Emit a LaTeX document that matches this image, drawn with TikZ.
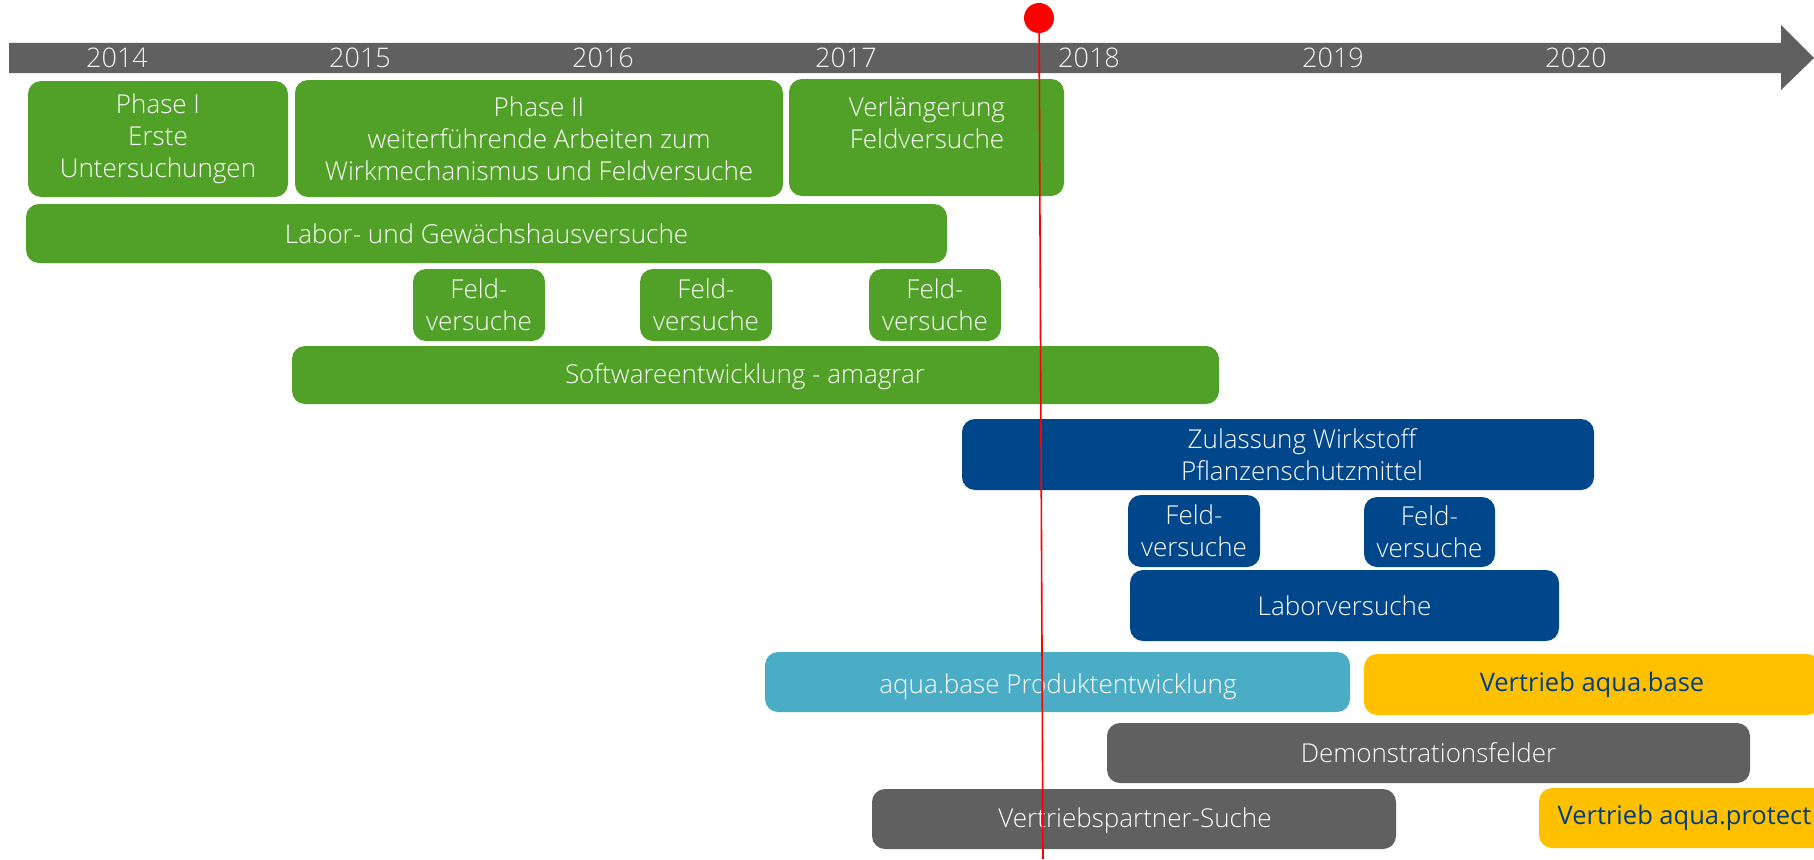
\documentclass[tikz,border=0pt]{standalone}
\usepackage{fontspec}
\IfFontExistsTF{Open Sans Light}{\setmainfont{Open Sans Light}}{\setmainfont{Open Sans}}
\newfontfamily\regfont{Open Sans}
\definecolor{grn}{HTML}{51A028}
\definecolor{dblue}{HTML}{00468B}
\definecolor{lblue}{HTML}{4BACC6}
\definecolor{gold}{HTML}{FFC000}
\definecolor{dgray}{HTML}{606060}
\definecolor{vtext}{HTML}{003E7E}
\definecolor{ytext}{HTML}{F2F2F2}
\newcommand\mybox[7]{\node[box,#6,minimum width={#4-#2},minimum height={#5-#3}] (#1) at (#2,#3) {#7};}
\begin{document}
\begin{tikzpicture}[x=1pt,y=-1pt,
  box/.style={rounded corners=13pt, inner sep=0pt, outer sep=0pt, anchor=north west, align=center, text=white, font=\fontsize{26}{32}\selectfont},
  green/.style={fill=grn},
  navy/.style={fill=dblue},
  aqua/.style={fill=lblue},
  goldbox/.style={fill=gold, text=vtext, font=\regfont\fontsize{25.5}{32}\selectfont},
  graybox/.style={fill=dgray},
  lbl/.style={align=center, text=white, inner sep=0pt, font=\fontsize{26}{32}\selectfont},
  year/.style={anchor=base, text=ytext, inner sep=0pt, font=\fontsize{27}{30}\selectfont}]
\useasboundingbox (0,0) rectangle (1814,859);
\clip (0,0) rectangle (1814,859);
% time axis
\fill[dgray] (9,43) -- (1781,43) -- (1781,25) -- (1814,58) -- (1781,90) -- (1781,73) -- (9,73) -- cycle;
\node[year] (y2014) at (117,67) {2014};
\node[year] (y2015) at (360,67) {2015};
\node[year] (y2016) at (603,67) {2016};
\node[year] (y2017) at (846,67) {2017};
\node[year] (y2018) at (1089,67) {2018};
\node[year] (y2019) at (1333,67) {2019};
\node[year] (y2020) at (1576,67) {2020};
% green boxes
\mybox{p1}{28}{81}{288}{197}{green}{Phase I\\Erste\\Untersuchungen}
\mybox{p2}{295}{80}{783}{197}{green}{Phase II\\weiterführende Arbeiten zum\\Wirkmechanismus und Feldversuche}
\mybox{verl}{789}{79}{1064}{196}{green}{}
\node[lbl] (verlt) at (927,123) {Verlängerung\\Feldversuche};
\mybox{labor}{26}{204}{947}{263}{green}{Labor- und Gewächshausversuche}
\mybox{f1}{413}{269}{545}{341}{green}{Feld-\\versuche}
\mybox{f2}{640}{269}{772}{341}{green}{Feld-\\versuche}
\mybox{f3}{869}{269}{1001}{341}{green}{Feld-\\versuche}
\mybox{soft}{292}{346}{1219}{404}{green}{}
\node[lbl] (softt) at (745,377) {Softwareentwicklung - amagrar};
% blue boxes
\mybox{zul}{962}{419}{1594}{490}{navy}{}
\node[lbl] (zult) at (1302,455) {Zulassung Wirkstoff\\Pflanzenschutzmittel};
\mybox{fb1}{1128}{495}{1260}{567}{navy}{Feld-\\versuche}
\mybox{fb2}{1364}{497}{1495}{567}{navy}{Feld-\\versuche}
\mybox{lv}{1130}{570}{1559}{641}{navy}{Laborversuche}
% product / sales
\mybox{aqb}{765}{652}{1350}{712}{aqua}{}
\node[lbl] (aqbt) at (1058,687) {aqua.base Produktentwicklung};
\mybox{vab}{1364}{654}{1820}{715}{goldbox}{Vertrieb aqua.base}
\mybox{demo}{1107}{723}{1750}{783}{graybox}{Demonstrationsfelder}
\mybox{vps}{872}{789}{1396}{849}{graybox}{}
\node[lbl] (vpst) at (1135,821) {Vertriebspartner-Suche};
\mybox{vap}{1539}{788}{1830}{848}{goldbox}{Vertrieb aqua.protect}
% today marker
\coordinate (nowend) at (1043,859);
\node[circle, fill=red, minimum size=30pt, inner sep=0pt] (now) at (1039,18) {};
\draw[red, line width=1.6pt] (now.center) -- (nowend);
\end{tikzpicture}
\end{document}
